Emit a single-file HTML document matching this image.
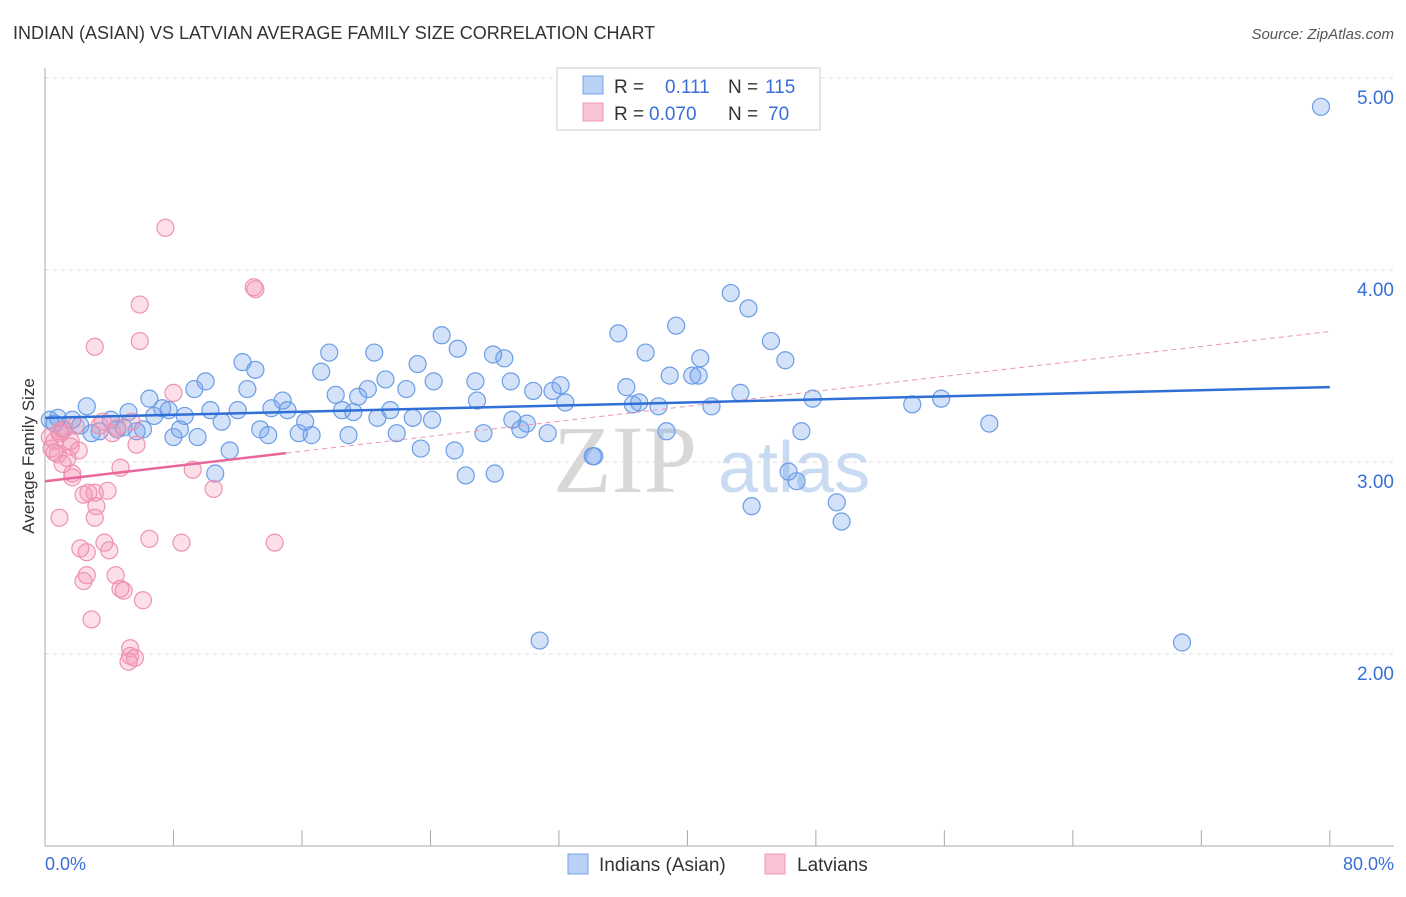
<!DOCTYPE html>
<html><head><meta charset="utf-8"><style>
body{margin:0;background:#fff;font-family:"Liberation Sans",sans-serif;}
</style></head><body>
<svg width="1406" height="892" xmlns="http://www.w3.org/2000/svg">
<text x="13" y="39" font-size="18" fill="#333">INDIAN (ASIAN) VS LATVIAN AVERAGE FAMILY SIZE CORRELATION CHART</text>
<text x="1394" y="39" font-size="15" fill="#555" font-style="italic" text-anchor="end">Source: ZipAtlas.com</text>
<text x="34" y="456" font-size="17" fill="#333" text-anchor="middle" transform="rotate(-90 34 456)">Average Family Size</text>
<g>
<text x="553" y="492" font-size="96" font-family="Liberation Serif,serif" fill="#d8d8d8">ZIP</text>
<text x="718" y="492" font-size="72" fill="#c9dbf2">atlas</text>
</g>
<g id="grid"></g><g id="axes"></g><g id="marks"></g>
<g>
<rect x="557" y="68" width="263" height="62" fill="#fff" stroke="#ccc"/>
<rect x="583" y="76" width="20" height="18" fill="#b8d1f5" stroke="#7aa3e6"/>
<rect x="583" y="103" width="20" height="18" fill="#f9c4d4" stroke="#ee97b4"/>
<text x="614" y="93" font-size="19" fill="#333">R =</text><text x="665" y="93" font-size="19" fill="#3a6fd8">0.111</text>
<text x="728" y="93" font-size="19" fill="#333">N =</text><text x="765" y="93" font-size="19" fill="#3a6fd8">115</text>
<text x="614" y="120" font-size="19" fill="#333">R =</text><text x="649" y="120" font-size="19" fill="#3a6fd8">0.070</text>
<text x="728" y="120" font-size="19" fill="#333">N =</text><text x="768" y="120" font-size="19" fill="#3a6fd8">70</text>
</g>
<g>
<rect x="568" y="854" width="20" height="20" fill="#b8d1f5" stroke="#7aa3e6"/>
<text x="599" y="871" font-size="19" fill="#333">Indians (Asian)</text>
<rect x="765" y="854" width="20" height="20" fill="#f9c4d4" stroke="#ee97b4"/>
<text x="797" y="871" font-size="19" fill="#333">Latvians</text>
</g>
<text x="45" y="870" font-size="18" fill="#3a6fd8">0.0%</text>
<text x="1394" y="870" font-size="18" fill="#3a6fd8" text-anchor="end">80.0%</text>
</svg>
<script>
const yTicks=[2,3,4,5];
const yTickLabels=["2.00","3.00","4.00","5.00"];
const xTicks=[0,8,16,24,32,40,48,56,64,72,80];
const blueX=[79.45,42.7,43.8,35.7,39.3,45.2,24.7,25.7,17.7,20.5,27.9,28.6,37.4,40.8,46.1,23.2,12.3,13.1,17.2,38.9,40.3,40.7,10.0,24.2,26.8,29.0,21.2,6.5,9.3,12.6,20.1,18.1,19.5,22.5,30.4,32.1,31.6,36.2,43.3,47.8,54.0,55.8,32.4,26.9,36.6,37.0,38.2,41.5,2.6,5.2,7.3,7.7,10.3,12.0,14.1,14.8,15.1,18.5,19.2,21.5,22.9,24.1,20.7,16.2,11.0,6.8,8.7,0.8,1.7,1.1,4.1,4.9,6.1,3.4,2.9,8.0,9.5,13.4,13.9,15.8,16.6,18.9,21.9,27.3,29.1,29.6,30.0,31.3,38.7,47.1,58.8,11.5,23.4,25.5,10.6,26.2,28.0,34.1,34.2,46.3,46.8,44.0,49.3,49.6,30.8,70.8,0.3,0.6,2.2,4.5,5.7,8.4];
const blueY=[4.85,3.88,3.80,3.67,3.71,3.63,3.66,3.59,3.57,3.57,3.56,3.54,3.57,3.54,3.53,3.51,3.52,3.48,3.47,3.45,3.45,3.45,3.42,3.42,3.42,3.42,3.43,3.33,3.38,3.38,3.38,3.35,3.34,3.38,3.37,3.40,3.37,3.39,3.36,3.33,3.30,3.33,3.31,3.32,3.30,3.31,3.29,3.29,3.29,3.26,3.28,3.27,3.27,3.27,3.28,3.32,3.27,3.27,3.26,3.27,3.23,3.22,3.23,3.21,3.21,3.24,3.24,3.23,3.22,3.17,3.22,3.18,3.17,3.16,3.15,3.13,3.13,3.17,3.14,3.15,3.14,3.14,3.15,3.15,3.22,3.17,3.20,3.15,3.16,3.16,3.20,3.06,3.07,3.06,2.94,2.93,2.94,3.03,3.03,2.95,2.90,2.77,2.79,2.69,2.07,2.06,3.22,3.20,3.19,3.17,3.16,3.17];
const pinkX=[7.5,13.0,13.1,5.9,5.9,3.1,8.0,3.6,5.4,4.2,0.9,1.9,1.2,0.6,1.6,0.4,0.8,1.4,2.1,1.1,1.7,1.7,4.7,9.2,10.5,3.1,3.9,2.7,2.4,3.2,3.1,0.9,5.7,6.5,8.5,14.3,3.7,4.0,2.2,2.6,2.6,2.4,4.4,4.7,4.9,6.1,2.9,5.3,5.3,5.6,5.2,0.9,0.3,0.6,1.6,3.4,4.5];
const pinkY=[4.22,3.91,3.90,3.82,3.63,3.60,3.36,3.21,3.21,3.15,3.15,3.19,3.17,3.11,3.08,3.07,3.04,3.02,3.06,2.99,2.92,2.94,2.97,2.96,2.86,2.84,2.85,2.84,2.83,2.77,2.71,2.71,3.09,2.60,2.58,2.58,2.58,2.54,2.55,2.53,2.41,2.38,2.41,2.34,2.33,2.28,2.18,2.03,1.99,1.98,1.96,3.16,3.13,3.05,3.11,3.19,3.18];
const blueTrend=[3.23,3.39];
const pinkTrend=[2.90,3.68];
const pinkSolidEnd=15;
const NS="http://www.w3.org/2000/svg";
const xs=v=>45+v*16.06;
const ys=v=>846-(v-1)*192;
function mk(t,a,p){const e=document.createElementNS(NS,t);for(const k in a)e.setAttribute(k,a[k]);p.appendChild(e);return e;}
const grid=document.getElementById('grid'),axes=document.getElementById('axes'),marks=document.getElementById('marks');
yTicks.forEach((v,i)=>{
 const l=mk('line',{x1:45,x2:1394,y1:ys(v),y2:ys(v),stroke:'#ddd','stroke-dasharray':'4,4'},grid);
 
 
 const t=mk('text',{x:1394,y:ys(v)+26,'font-size':19,fill:'#3a6fd8','text-anchor':'end'},axes);
 t.textContent=yTickLabels[i];
 
 
});
const ax=mk('line',{x1:45,x2:45,y1:68,y2:846,stroke:'#aaa'},axes);


const bx=mk('line',{x1:45,x2:1394,y1:846,y2:846,stroke:'#aaa'},axes);


xTicks.forEach(v=>{
 const t=mk('line',{x1:xs(v),x2:xs(v),y1:830,y2:846,stroke:'#aaa'},axes);
 
 
});
blueX.forEach((x,i)=>{
 const c=mk('circle',{cx:xs(x),cy:ys(blueY[i]),r:8.5,fill:'rgba(110,160,235,0.3)',stroke:'#6b9de6','stroke-width':1.2},marks);
 
 
});
pinkX.forEach((x,i)=>{
 const c=mk('circle',{cx:xs(x),cy:ys(pinkY[i]),r:8.5,fill:'rgba(245,150,180,0.3)',stroke:'#ee92b2','stroke-width':1.2},marks);
 
 
});
const pAt=x=>pinkTrend[0]+(pinkTrend[1]-pinkTrend[0])*x/80;
const pd=mk('line',{x1:xs(0),y1:ys(pinkTrend[0]),x2:xs(80),y2:ys(pinkTrend[1]),stroke:'#ee92b2','stroke-width':1,'stroke-dasharray':'5,4'},marks);


const ps=mk('line',{x1:xs(0),y1:ys(pinkTrend[0]),x2:xs(pinkSolidEnd),y2:ys(pAt(pinkSolidEnd)),stroke:'#e8679a','stroke-width':2.5},marks);


const bl=mk('line',{x1:xs(0),y1:ys(blueTrend[0]),x2:xs(80),y2:ys(blueTrend[1]),stroke:'#2f6fd6','stroke-width':2.5},marks);


</script>
</body></html>
